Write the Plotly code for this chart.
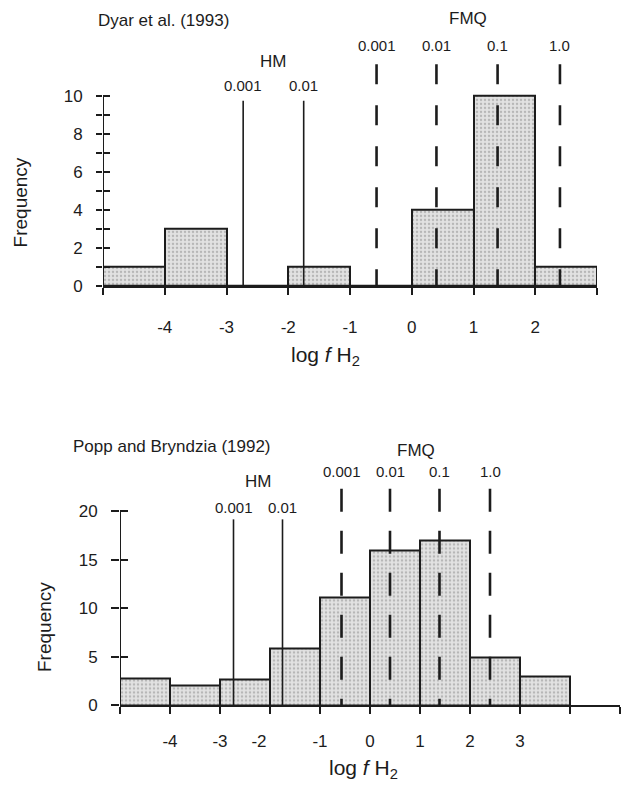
import plotly.graph_objects as go

# ---- data -------------------------------------------------------------
# Histograms of log fH2, bins one log unit wide (left edges)
dyar_bin_left = [-5, -4, -3, -2, -1, 0, 1, 2]
dyar_counts = [1, 3, 0, 1, 0, 4, 10, 1]

popp_bin_left = [-5, -4, -3, -2, -1, 0, 1, 2, 3]
popp_counts = [2.7, 2.0, 2.6, 5.8, 11.1, 16, 17, 4.9, 3]

# Buffer reference values of log fH2
hm_log_fh2 = [-2.73, -1.75]
hm_labels = ["0.001", "0.01"]
fmq_log_fh2 = [-0.57, 0.40, 1.39, 2.40]
fmq_labels = ["0.001", "0.01", "0.1", "1.0"]

dyar_xticks = [-5, -4, -3, -2, -1, 0, 1, 2, 3]
dyar_xlabels = ["", "-4", "-3", "-2", "-1", "0", "1", "2", ""]
dyar_yticks = list(range(0, 11))
dyar_ylabels = [str(v) if v % 2 == 0 else "" for v in dyar_yticks]

popp_xticks = [-5, -4, -3, -2, -1, 0, 1, 2, 3, 4, 5]
popp_xlabels = ["-4", "-3", "-2", "-1", "0", "1", "2", "3"]
popp_yticks = [0, 5, 10, 15, 20]

# ---- page geometry ----------------------------------------------------
W, H = 623, 792
FONT = "Liberation Sans, Arial, Helvetica, sans-serif"
INK = "#1c1c1c"


def fx(p):
    return p / W


def fy(p):
    return 1 - p / H


# panel 1: y=0 at 290 px, 19.3 px per unit; panel 2: y=0 at 714 px, 9.8 px per unit
top_yrange = [0, (290 - 10) / 19.3]
bot_yrange = [0, (714 - 440) / 9.8]

fig = go.Figure()

bar_style = dict(
    color="#dcdcdc",
    pattern=dict(shape=".", fgcolor="#8c8c8c", bgcolor="#e2e2e2", size=4, solidity=0.3),
    line=dict(color=INK, width=2),
)

fig.add_trace(go.Bar(
    x=[b + 0.5 for b in dyar_bin_left], y=dyar_counts, width=1,
    marker=bar_style, xaxis="x", yaxis="y", showlegend=False, hoverinfo="skip",
))
fig.add_trace(go.Bar(
    x=[b + 0.5 for b in popp_bin_left], y=popp_counts, width=1,
    marker=bar_style, xaxis="x2", yaxis="y2", showlegend=False, hoverinfo="skip",
))
# empty traces so the overlay axes (crossing ticks, label rows) are laid out
for xa, ya in [("x", "y3"), ("x2", "y4"), ("x3", "y"), ("x4", "y2")]:
    fig.add_trace(go.Scatter(x=[None], y=[None], xaxis=xa, yaxis=ya,
                             showlegend=False, hoverinfo="skip"))

tickfont = dict(family=FONT, size=17, color=INK)

fig.update_layout(
    width=W, height=H, autosize=False,
    margin=dict(l=0, r=0, t=0, b=0),
    paper_bgcolor="white", plot_bgcolor="white",
    bargap=0, showlegend=False,
    font=dict(family=FONT, color=INK),
    # ---- upper panel ----
    xaxis=dict(domain=[fx(103), fx(597)], range=[-5, 3], anchor="y",
               showline=True, linewidth=2, linecolor=INK,
               ticks="outside", ticklen=7, tickwidth=2, tickcolor=INK,
               tickvals=dyar_xticks, ticktext=[""] * len(dyar_xticks),
               showgrid=False, zeroline=False),
    xaxis3=dict(overlaying="x", anchor="y", range=[-5, 3], side="bottom",
                tickvals=dyar_xticks, ticktext=dyar_xlabels, ticks="",
                tickfont=tickfont, ticklabelstandoff=29,
                showline=False, showgrid=False, zeroline=False),
    yaxis=dict(domain=[fy(290), fy(10)], range=top_yrange, anchor="x",
               showline=False, showgrid=False, zeroline=False,
               ticks="outside", ticklen=6, tickwidth=2, tickcolor=INK,
               tickvals=dyar_yticks, ticktext=dyar_ylabels,
               tickfont=tickfont, ticklabelstandoff=10),
    yaxis3=dict(overlaying="y", anchor="x", side="left", range=top_yrange,
                ticks="inside", ticklen=7, tickwidth=2, tickcolor=INK,
                tickvals=dyar_yticks, showticklabels=False,
                showline=False, showgrid=False, zeroline=False),
    # ---- lower panel ----
    xaxis2=dict(domain=[fx(120), fx(620)], range=[-5, 5], anchor="y2",
                showline=True, linewidth=2, linecolor=INK,
                ticks="outside", ticklen=7, tickwidth=2, tickcolor=INK,
                tickvals=popp_xticks, ticktext=[""] * len(popp_xticks),
                showgrid=False, zeroline=False),
    xaxis4=dict(overlaying="x2", anchor="y2", range=[-5, 5], side="bottom",
                tickvals=[-4, -3, -2.22, -1, 0, 1, 2, 3], ticktext=popp_xlabels,
                ticks="", tickfont=tickfont, ticklabelstandoff=24,
                showline=False, showgrid=False, zeroline=False),
    yaxis2=dict(domain=[fy(714), fy(440)], range=bot_yrange, anchor="x2",
                showline=False, showgrid=False, zeroline=False,
                ticks="outside", ticklen=8, tickwidth=2, tickcolor=INK,
                tickvals=popp_yticks, tickfont=tickfont, ticklabelstandoff=10),
    yaxis4=dict(overlaying="y2", anchor="x2", side="left", range=bot_yrange,
                ticks="inside", ticklen=8, tickwidth=2, tickcolor=INK,
                tickvals=popp_yticks, showticklabels=False,
                showline=False, showgrid=False, zeroline=False),
)

shapes = []
annotations = []


def label(xref, yref, x, y, text, size, angle=0):
    annotations.append(dict(xref=xref, yref=yref, x=x, y=y, text=text,
                            xanchor="center", yanchor="middle", textangle=angle,
                            showarrow=False, font=dict(family=FONT, size=size, color=INK)))


def panel(xref, yref, yaxis_top, hm_top, hm_label_y, hm_title_y,
          fmq_top, fmq_label_y, fmq_title_y, dash):
    # y axis line, only as tall as the tick range
    shapes.append(dict(type="line", xref=xref, yref=yref, x0=-5, x1=-5,
                       y0=0, y1=yaxis_top, line=dict(color=INK, width=2)))
    for v, lab in zip(hm_log_fh2, hm_labels):
        shapes.append(dict(type="line", xref=xref, yref=yref, x0=v, x1=v,
                           y0=0, y1=hm_top, line=dict(color=INK, width=1.6)))
        label(xref, yref, v, hm_label_y, lab, 15)
    label(xref, yref, sum(hm_log_fh2) / 2, hm_title_y, "HM", 17)
    for v, lab in zip(fmq_log_fh2, fmq_labels):
        shapes.append(dict(type="line", xref=xref, yref=yref, x0=v, x1=v,
                           y0=fmq_top, y1=0, line=dict(color=INK, width=2.6, dash=dash)))
        label(xref, yref, v, fmq_label_y, lab, 15)
    label(xref, yref, (fmq_log_fh2[0] + fmq_log_fh2[-1]) / 2, fmq_title_y, "FMQ", 17)


panel("x", "y", 10, (290 - 102) / 19.3, (290 - 87) / 19.3, (290 - 62) / 19.3,
      (290 - 65) / 19.3, (290 - 46) / 19.3, (290 - 19) / 19.3, "20px,21px")
panel("x2", "y2", 20, (714 - 526) / 9.8, (714 - 514) / 9.8, (714 - 488) / 9.8,
      (714 - 495) / 9.8, (714 - 478) / 9.8, (714 - 456) / 9.8, "23px,19px")

# panel titles
label("paper", "paper", fx(163), fy(21), "Dyar et al. (1993)", 17)
label("paper", "paper", fx(172), fy(452), "Popp and Bryndzia (1992)", 17)

# axis titles
xtitle = "log <i>f</i> H<sub>2</sub>"
label("paper", "paper", fx(325), fy(361), xtitle, 21)
label("paper", "paper", fx(363), fy(779), xtitle, 21)
label("paper", "paper", fx(20), fy(205), "Frequency", 19, -90)
label("paper", "paper", fx(45), fy(635), "Frequency", 19, -90)

fig.update_layout(shapes=shapes, annotations=annotations)
fig.write_html("out.html")
